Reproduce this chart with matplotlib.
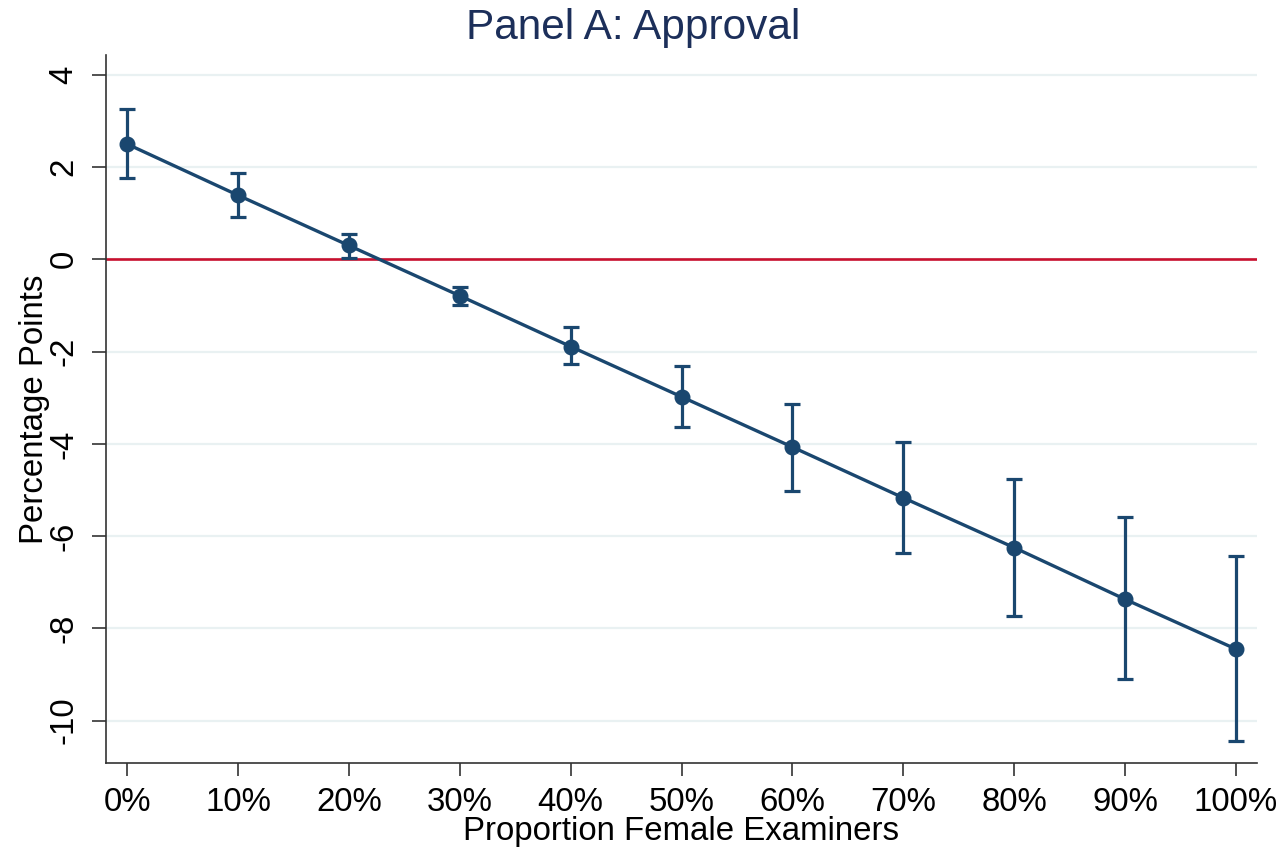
import matplotlib
matplotlib.use("Agg")
import matplotlib.pyplot as plt
import numpy as np

# Share of female examiners on the panel (%)
share_female = [0, 10, 20, 30, 40, 50, 60, 70, 80, 90, 100]
tick_labels = ["0%", "10%", "20%", "30%", "40%", "50%", "60%", "70%", "80%", "90%", "100%"]

# Estimated effect on approval (percentage points) with 95% CI bounds
estimate = [2.50, 1.39, 0.30, -0.79, -1.89, -2.98, -4.07, -5.17, -6.25, -7.37, -8.45]
ci_upper = [3.25, 1.87, 0.54, -0.60, -1.47, -2.32, -3.13, -3.97, -4.77, -5.59, -6.44]
ci_lower = [1.76, 0.92, 0.03, -0.99, -2.28, -3.63, -5.02, -6.37, -7.73, -9.10, -10.45]

y_ticks = [4, 2, 0, -2, -4, -6, -8, -10]

navy = "#1a476f"
grid_col = "#e9f1f2"
red = "#c8102e"
font = ["Liberation Sans", "DejaVu Sans"]
plt.rcParams["font.family"] = font

fig = plt.figure(figsize=(12.84, 8.47), dpi=100)
ax = fig.add_axes([106 / 1284, 1 - 763 / 847, (1257 - 106) / 1284, (763 - 55) / 847])

x = np.array(share_female, dtype=float)
est = np.array(estimate)
yerr = np.vstack([est - np.array(ci_lower), np.array(ci_upper) - est])

for yt in y_ticks:
    ax.axhline(yt, color=grid_col, lw=1.6, zorder=0)
ax.axhline(0, color=red, lw=1.9, zorder=1)

ax.errorbar(x, est, yerr=yerr, fmt="none", ecolor=navy, elinewidth=2.3,
            capsize=5.8, capthick=2.3, zorder=2)
ax.plot(x, est, color=navy, lw=2.4, marker="o", markersize=10.5,
        markerfacecolor=navy, markeredgecolor=navy, zorder=3)

ax.set_xlim(-1.9, 101.9)
ax.set_ylim(-10.92, 4.43)
ax.set_xticks(share_female)
ax.set_xticklabels(tick_labels)
ax.set_yticks(y_ticks)
ax.set_yticklabels([str(v) for v in y_ticks], rotation=90, va="center")

for s in ["top", "right"]:
    ax.spines[s].set_visible(False)
for s in ["left", "bottom"]:
    ax.spines[s].set_color("#333333")
    ax.spines[s].set_linewidth(1.2)

ax.tick_params(axis="y", length=10, width=1.2, color="#333333", labelsize=23.8, pad=9)
ax.tick_params(axis="x", length=9, width=1.2, color="#333333", labelsize=23.8, pad=8)

ax.set_xlabel("Proportion Female Examiners", fontsize=23.8, labelpad=-1)
ax.set_ylabel("Percentage Points", fontsize=23.8, labelpad=-1)
fig.text(633 / 1284, 1 - 28 / 847, "Panel A: Approval",
         ha="center", va="center", fontsize=30.5, color="#1c2f5a")

fig.savefig("out.png", dpi=100, facecolor="white")
